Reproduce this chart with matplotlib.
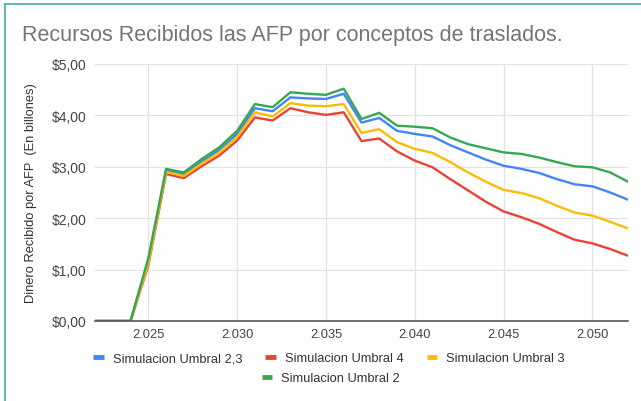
import matplotlib
matplotlib.use("Agg")
import matplotlib.pyplot as plt
from matplotlib.lines import Line2D
from matplotlib.ticker import FuncFormatter, MultipleLocator

years = list(range(2022, 2053))

sim_2_3 = [0, 0, 0, 1.18, 2.93, 2.85, 3.10, 3.33, 3.64, 4.14, 4.08, 4.35, 4.33, 4.32, 4.42,
           3.86, 3.95, 3.70, 3.64, 3.59, 3.42, 3.28, 3.14, 3.02, 2.96, 2.88, 2.76, 2.66, 2.62, 2.50, 2.36]
sim_4 = [0, 0, 0, 1.08, 2.86, 2.78, 3.01, 3.22, 3.51, 3.96, 3.90, 4.14, 4.06, 4.01, 4.06,
         3.50, 3.55, 3.30, 3.12, 2.99, 2.76, 2.54, 2.32, 2.13, 2.02, 1.89, 1.73, 1.58, 1.51, 1.40, 1.27]
sim_3 = [0, 0, 0, 1.12, 2.90, 2.82, 3.06, 3.28, 3.58, 4.06, 3.98, 4.24, 4.19, 4.18, 4.22,
         3.66, 3.73, 3.48, 3.35, 3.27, 3.09, 2.89, 2.71, 2.55, 2.49, 2.39, 2.24, 2.11, 2.05, 1.93, 1.80]
sim_2 = [0, 0, 0, 1.22, 2.96, 2.89, 3.15, 3.38, 3.70, 4.22, 4.16, 4.45, 4.42, 4.40, 4.52,
         3.93, 4.05, 3.80, 3.78, 3.75, 3.57, 3.44, 3.36, 3.28, 3.25, 3.18, 3.09, 3.01, 2.99, 2.89, 2.71]

series_names = ["Simulacion Umbral 2,3", "Simulacion Umbral 4", "Simulacion Umbral 3", "Simulacion Umbral 2"]
series_values = [sim_2_3, sim_4, sim_3, sim_2]
colors = ["#4285F4", "#EA4335", "#FBBC04", "#34A853"]

title = "Recursos Recibidos las AFP por conceptos de traslados."
ylabel = "Dinero Recibido por AFP  (En billones)"
xticks = [2025, 2030, 2035, 2040, 2045, 2050]

plt.rcParams['font.family'] = ['Liberation Sans', 'DejaVu Sans']

W, H = 641, 402
fig = plt.figure(figsize=(W / 100, H / 100), dpi=100)
fig.patch.set_facecolor("white")

ax = fig.add_axes([95 / W, 1 - 322 / H, 533 / W, 257 / H])
for name, vals, c in zip(series_names, series_values, colors):
    ax.plot(years, vals, color=c, lw=1.7, solid_joinstyle="round", solid_capstyle="round", zorder=3)

ax.set_xlim(2022, 2052)
ax.set_ylim(0, 5)
ax.yaxis.set_major_locator(MultipleLocator(1))
ax.set_xticks(xticks)
ax.xaxis.set_major_formatter(FuncFormatter(lambda v, p: f"{int(v) // 1000}.{int(v) % 1000:03d}"))
ax.yaxis.set_major_formatter(FuncFormatter(lambda v, p: f"${v:.2f}".replace(".", ",")))
ax.grid(True, color="#e3e3e3", lw=0.9, zorder=0)
for s in ["top", "right", "left"]:
    ax.spines[s].set_visible(False)
ax.spines["bottom"].set_color("#555555")
ax.spines["bottom"].set_linewidth(1.2)
ax.spines["bottom"].set_zorder(6)
ax.tick_params(length=0, colors="#444444")
ax.tick_params(axis="y", labelsize=10, pad=6)
ax.tick_params(axis="x", labelsize=9.3, pad=5)
ax.set_ylabel(ylabel, fontsize=9.3, color="#333333")
ax.yaxis.set_label_coords(-(95 - 37) / 533, 0.5)

fig.text(22 / W, 1 - 35 / H, title, fontsize=15.5, color="#757575", va="center", ha="left")

handles = [Line2D([], [], color=c, lw=3.5, solid_capstyle="butt") for c in colors]
leg1 = fig.legend(handles[:3], series_names[:3], loc="center", bbox_to_anchor=(329 / W, 1 - 359 / H),
                  ncol=3, frameon=False, fontsize=9.3, handlelength=0.8, handletextpad=0.7,
                  columnspacing=1.8, borderpad=0, labelcolor="#333333")
leg2 = fig.legend(handles[3:], series_names[3:], loc="center", bbox_to_anchor=(331 / W, 1 - 379 / H),
                  ncol=1, frameon=False, fontsize=9.3, handlelength=0.8, handletextpad=0.7,
                  borderpad=0, labelcolor="#333333")

# teal frame lines (top and left)
teal = "#4DB6AC"
fig.add_artist(Line2D([5 / W, 1], [1 - 5 / H, 1 - 5 / H], color=teal, lw=1.3, transform=fig.transFigure))
fig.add_artist(Line2D([5 / W, 5 / W], [0, 1 - 5 / H], color=teal, lw=1.3, transform=fig.transFigure))

fig.savefig("out.png", dpi=100, facecolor="white")
